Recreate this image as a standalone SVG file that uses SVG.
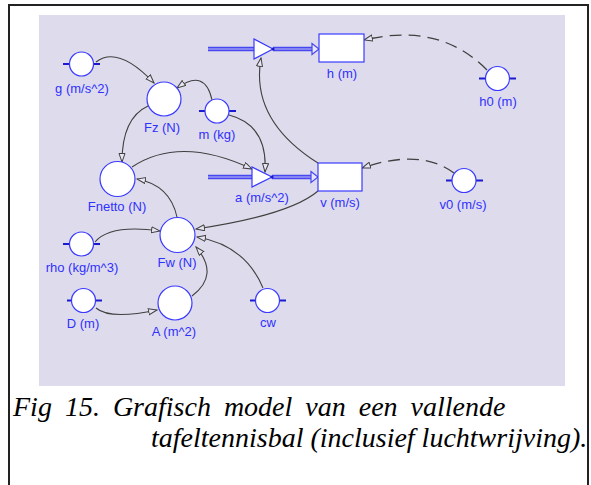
<svg xmlns="http://www.w3.org/2000/svg" width="591" height="485" viewBox="0 0 591 485">
<style>
.nd{fill:#ffffff;stroke:#3a3aff;stroke-width:1.2}
.tk{stroke:#1a1ad0;stroke-width:2}
.lb{font-family:"Liberation Sans",Arial,sans-serif;font-size:13px;fill:#3030ff;text-anchor:middle}
.cn{fill:none;stroke:#404040;stroke-width:1.1}
.ds{fill:none;stroke:#404040;stroke-width:1.3;stroke-dasharray:12,7}
.fo{stroke:#4848f0;stroke-width:4.5;fill:none}
.fi{stroke:#c0c0f4;stroke-width:1.2;fill:none}
.cap{font-family:"Liberation Serif","Times New Roman",serif;font-style:italic;font-size:28px;fill:#000}
</style>
<defs>
<marker id="ah" markerWidth="10" markerHeight="8" refX="9" refY="3.5" orient="auto" markerUnits="userSpaceOnUse">
<path d="M0.5,0.5 L9,3.5 L0.5,6.5 z" fill="#e8e6f4" stroke="#404040" stroke-width="1"/>
</marker>
</defs>
<rect x="0" y="0" width="591" height="485" fill="#ffffff"/>
<rect x="9" y="5" width="579" height="490" fill="#ffffff" stroke="#222" stroke-width="2"/>
<rect x="39" y="15" width="526" height="371" fill="#dedcec"/>

<g id="connectors">
<path class="cn" d="M96,62 Q118,45 154,83" marker-end="url(#ah)"/>
<path class="cn" d="M212,100 Q205,68 177,88" marker-end="url(#ah)"/>
<path class="cn" d="M229,115 Q268,125 265,172" marker-end="url(#ah)"/>
<path class="cn" d="M148,106 Q122,118 122,162" marker-end="url(#ah)"/>
<path class="cn" d="M132,167 Q180,135 252,169" marker-end="url(#ah)"/>
<path class="cn" d="M177,217 Q170,185 137,179" marker-end="url(#ah)"/>
<path class="cn" d="M318,191 Q290,215 196,229" marker-end="url(#ah)"/>
<path class="cn" d="M318,163 Q250,120 261,58" marker-end="url(#ah)"/>
<path class="cn" d="M95,242 Q110,224 160,231" marker-end="url(#ah)"/>
<path class="cn" d="M96,308 Q110,320 157,310" marker-end="url(#ah)"/>
<path class="cn" d="M192,296 Q220,275 196,247" marker-end="url(#ah)"/>
<path class="cn" d="M263,288 Q245,245 197,237" marker-end="url(#ah)"/>
<path class="ds" d="M487,70 Q440,22 364,40" marker-end="url(#ah)"/>
<path class="ds" d="M454,173 Q420,148 362,168" marker-end="url(#ah)"/>
<path class="fo" d="M208,49 H254 M273,49 H313"/>
<path class="fi" d="M208,49 H254 M273,49 H313"/>
<polygon points="312,43.5 319,49 312,54.5" fill="#e8e6f4" stroke="#4848f0" stroke-width="1.2"/>
<path class="fo" d="M208,177 H252 M272,177 H312"/>
<path class="fi" d="M208,177 H252 M272,177 H312"/>
<polygon points="311,171.5 318,177 311,182.5" fill="#e8e6f4" stroke="#4848f0" stroke-width="1.2"/>
</g>

<g id="valve-h">
<polygon class="nd" points="254,39 254,59 273,49"/>
<circle cx="273" cy="49" r="1.6" fill="#1a1ad0"/>
</g>
<g id="a">
<polygon class="nd" points="252,167 252,187 272,177"/>
<circle cx="272" cy="177" r="1.6" fill="#1a1ad0"/>
<text class="lb" x="262" y="202">a (m/s^2)</text>
</g>
<g id="h">
<rect class="nd" x="319" y="34" width="45" height="28"/>
<text class="lb" x="342" y="78">h (m)</text>
</g>
<g id="v">
<rect class="nd" x="318" y="163" width="44" height="28"/>
<text class="lb" x="340" y="207">v (m/s)</text>
</g>
<g id="h0">
<path class="tk" d="M479,78.5 H486 M509,78.5 H516"/>
<circle class="nd" cx="497.5" cy="78.5" r="12"/>
<text class="lb" x="498" y="106">h0 (m)</text>
</g>
<g id="v0">
<path class="tk" d="M446,180.5 H453 M476,180.5 H483"/>
<circle class="nd" cx="464" cy="180.5" r="12"/>
<text class="lb" x="463" y="209">v0 (m/s)</text>
</g>
<g id="g">
<path class="tk" d="M63,64 H70 M93,64 H100"/>
<circle class="nd" cx="81.5" cy="64" r="12"/>
<text class="lb" x="82" y="93">g (m/s^2)</text>
</g>
<g id="Fz">
<circle class="nd" cx="164" cy="99" r="17"/>
<text class="lb" x="162" y="132">Fz (N)</text>
</g>
<g id="m">
<path class="tk" d="M199,111 H206 M228,111 H236"/>
<circle class="nd" cx="217" cy="111" r="12"/>
<text class="lb" x="217" y="139">m (kg)</text>
</g>
<g id="Fnetto">
<circle class="nd" cx="117.5" cy="179" r="17.5"/>
<text class="lb" x="117" y="211">Fnetto (N)</text>
</g>
<g id="Fw">
<circle class="nd" cx="177.5" cy="235" r="17.5"/>
<text class="lb" x="177" y="267">Fw (N)</text>
</g>
<g id="rho">
<path class="tk" d="M63,244 H70 M93,244 H100"/>
<circle class="nd" cx="81.5" cy="244" r="12"/>
<text class="lb" x="82" y="272">rho (kg/m^3)</text>
</g>
<g id="D">
<path class="tk" d="M67,300.5 H72 M95,300.5 H102"/>
<circle class="nd" cx="83.5" cy="300.5" r="12"/>
<text class="lb" x="83" y="328">D (m)</text>
</g>
<g id="A">
<circle class="nd" cx="175" cy="303" r="17"/>
<text class="lb" x="174" y="336">A (m^2)</text>
</g>
<g id="cw">
<path class="tk" d="M250,300.5 H256 M279,300.5 H286"/>
<circle class="nd" cx="267.5" cy="300.5" r="12"/>
<text class="lb" x="268" y="327">cw</text>
</g>

<g id="caption">
<text class="cap" x="13" y="416" font-size="29.5" word-spacing="6">Fig 15. Grafisch model van een vallende</text>
<text class="cap" x="151" y="447" font-size="27.8">tafeltennisbal (inclusief luchtwrijving).</text>
</g>
</svg>
